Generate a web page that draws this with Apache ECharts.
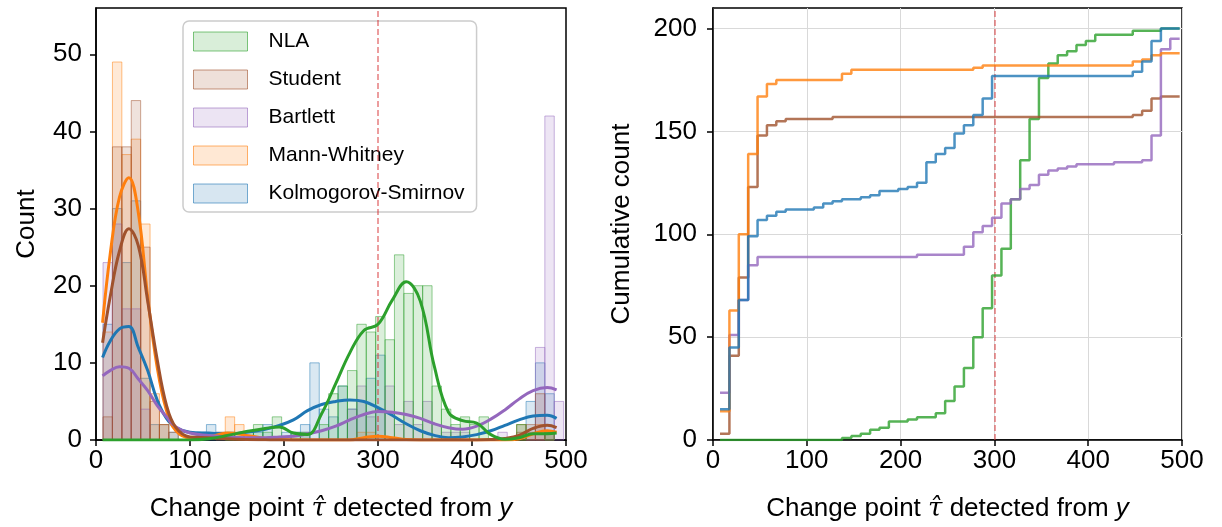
<!DOCTYPE html>
<html>
<head>
<meta charset="utf-8">
<script src="https://cdn.jsdelivr.net/npm/echarts@6/dist/echarts.min.js"></script>
<style>
  html, body { margin: 0; padding: 0; background: #fff; }
  #chart { width: 1222px; height: 527px; }
</style>
</head>
<body>
<div id="chart"></div>
<script>
// histogram bins (width 10)
const binEdges = [7.5, 17.5, 27.5, 37.5, 47.5, 57.5, 67.5, 77.5, 87.5, 97.5,
  107.5, 117.5, 127.5, 137.5, 147.5, 157.5, 167.5, 177.5, 187.5, 197.5,
  207.5, 217.5, 227.5, 237.5, 247.5, 257.5, 267.5, 277.5, 287.5, 297.5,
  307.5, 317.5, 327.5, 337.5, 347.5, 357.5, 367.5, 377.5, 387.5, 397.5,
  407.5, 417.5, 427.5, 437.5, 447.5, 457.5, 467.5, 477.5, 487.5, 497.5]

const methods = ['NLA', 'Student', 'Bartlett', 'Mann-Whitney', 'Kolmogorov-Smirnov']

// counts per bin
const countsNLA = [0, 0, 0, 0, 0, 0, 0, 0, 0, 0,
  0, 0, 0, 1, 1, 1, 2, 1, 3, 0,
  1, 1, 0, 2, 6, 7, 9, 15, 14, 16,
  13, 24, 19, 20, 20, 7, 4, 2, 3, 2,
  3, 0, 0, 0, 2, 0, 0, 1, 0]
const countsStudent = [3, 38, 38, 44, 25, 5, 2, 1, 0, 0,
  0, 0, 1, 0, 0, 0, 0, 0, 0, 0,
  0, 0, 0, 0, 0, 0, 0, 0, 0, 0,
  0, 0, 0, 0, 0, 0, 0, 0, 0, 0,
  0, 0, 0, 0, 1, 2, 6, 1, 0]
const countsBartlett = [23, 28, 17, 17, 4, 0, 0, 0, 0, 0,
  0, 0, 0, 0, 0, 0, 0, 0, 0, 0,
  0, 1, 0, 0, 0, 0, 4, 7, 3, 4,
  7, 2, 5, 2, 5, 2, 1, 1, 1, 0,
  0, 0, 1, 0, 0, 1, 12, 42, 5]
const countsMW = [14, 49, 37, 39, 28, 6, 2, 0, 0, 0,
  0, 0, 0, 3, 2, 0, 0, 0, 0, 0,
  0, 0, 0, 0, 0, 0, 0, 1, 1, 0,
  0, 0, 0, 0, 0, 0, 0, 0, 0, 0,
  0, 0, 0, 0, 2, 1, 2, 1, 0]
const countsKS = [15, 30, 23, 31, 8, 2, 2, 1, 0, 0,
  1, 2, 1, 1, 0, 1, 1, 2, 0, 1,
  1, 2, 10, 4, 3, 7, 4, 5, 8, 11,
  0, 0, 0, 0, 0, 0, 0, 0, 0, 0,
  0, 0, 0, 0, 2, 5, 10, 6, 0]

// KDE curves (in counts)
const kdeX = [7, 15, 25, 35, 45, 55, 65, 75, 85, 100,
  120, 140, 160, 180, 195, 210, 225, 240, 255, 270,
  285, 300, 315, 330, 345, 360, 375, 390, 405, 420,
  435, 450, 465, 480, 490]
const kdeNLA = [0, 0, 0, 0, 0, 0, 0, 0, 0, 0,
  0.15, 0.6, 1.1, 1.5, 1.7, 0.9, 0.7, 3.4, 7.3, 11.3,
  14.2, 15.0, 18.1, 20.5, 18.0, 9.5, 3.6, 2.5, 2.2, 0.7,
  0.1, 0.3, 0.8, 0.8, 0.9]
const kdeStudent = [12.6, 18.5, 24.5, 27.4, 25.2, 18.0, 10.5, 4.5, 1.6, 0.4,
  0.3, 0.15, 0.05, 0.02, 0, 0, 0, 0, 0, 0,
  0, 0, 0, 0, 0, 0, 0, 0, 0, 0.05,
  0.2, 0.6, 1.5, 1.9, 1.6]
const kdeBartlett = [8.3, 9.0, 9.5, 9.3, 7.9, 6.4, 4.5, 3.0, 1.7, 0.9,
  0.6, 0.4, 0.3, 0.3, 0.4, 0.5, 0.8, 1.2, 1.8, 2.6,
  3.3, 3.7, 3.6, 3.3, 2.8, 2.1, 1.6, 1.4, 1.8, 2.7,
  3.9, 5.3, 6.4, 6.8, 6.5]
const kdeMW = [15.2, 24.0, 31.5, 34.0, 29.5, 18.5, 9.5, 3.8, 1.2, 0.3,
  0.4, 0.9, 0.6, 0.2, 0.05, 0, 0, 0, 0, 0,
  0.3, 0.5, 0.3, 0.05, 0, 0, 0, 0, 0, 0,
  0, 0.15, 0.8, 1.2, 1.0]
const kdeKS = [10.7, 12.8, 14.4, 14.7, 12.0, 9.0, 5.2, 2.8, 1.6, 1.0,
  0.9, 0.8, 1.0, 1.4, 1.9, 2.6, 3.8, 4.6, 5.0, 5.2,
  5.0, 4.2, 3.2, 2.1, 1.2, 0.6, 0.3, 0.4, 0.7, 1.2,
  1.9, 2.6, 3.1, 3.2, 2.8]

const trueChange = 300

const colors = {
  'NLA': [44, 160, 44],
  'Student': [160, 82, 45],
  'Bartlett': [148, 103, 189],
  'Mann-Whitney': [255, 127, 14],
  'Kolmogorov-Smirnov': [31, 119, 180]
}
const countsBy = {
  'NLA': countsNLA, 'Student': countsStudent, 'Bartlett': countsBartlett,
  'Mann-Whitney': countsMW, 'Kolmogorov-Smirnov': countsKS
}
const kdeBy = {
  'NLA': kdeNLA, 'Student': kdeStudent, 'Bartlett': kdeBartlett,
  'Mann-Whitney': kdeMW, 'Kolmogorov-Smirnov': kdeKS
}

const rgba = (c, a) => `rgba(${c[0]},${c[1]},${c[2]},${a})`
const FONT = 'Liberation Sans, Arial, sans-serif'

const histSeries = (name) => {
  const col = colors[name]
  const data = []
  countsBy[name].forEach((c, i) => {
    if (c > 0) data.push([binEdges[i], binEdges[i + 1], c])
  })
  return {
    name,
    type: 'custom',
    xAxisIndex: 0,
    yAxisIndex: 0,
    silent: true,
    encode: { x: [0, 1], y: 2 },
    renderItem: (params, api) => {
      const p0 = api.coord([api.value(0), api.value(2)])
      const p1 = api.coord([api.value(1), 0])
      return {
        type: 'rect',
        shape: { x: p0[0], y: p0[1], width: p1[0] - p0[0], height: p1[1] - p0[1] },
        style: { fill: rgba(col, 0.17), stroke: rgba(col, 0.5), lineWidth: 1 }
      }
    },
    data
  }
}

const kdeSeries = (name) => ({
  name: name + ' kde',
  type: 'line',
  xAxisIndex: 0,
  yAxisIndex: 0,
  smooth: 0.4,
  showSymbol: false,
  silent: true,
  z: 5,
  lineStyle: { color: rgba(colors[name], 1), width: 3 },
  itemStyle: { color: rgba(colors[name], 1) },
  data: kdeX.map((x, i) => [x, kdeBy[name][i]])
})

const cumSeries = (name) => {
  let s = 0
  const counts = countsBy[name]
  const data = counts.map((c, i) => { s += c; return [binEdges[i], s] })
  data.push([binEdges[counts.length], s])
  return {
    name: name + ' cum',
    type: 'line',
    xAxisIndex: 1,
    yAxisIndex: 1,
    step: 'end',
    showSymbol: false,
    silent: true,
    z: 5,
    lineStyle: { color: rgba(colors[name], 0.8), width: 2.5 },
    itemStyle: { color: rgba(colors[name], 0.8) },
    data
  }
}

const dashLine = {
  silent: true,
  symbol: 'none',
  label: { show: false },
  lineStyle: { type: [6, 3], color: 'rgba(214,39,40,0.6)', width: 1.5 },
  data: [{ xAxis: trueChange }]
}

const xName = '{a|Change point }{t|τ̂}{a| detected from }{i|y}'
const nameStyle = {
  color: '#000',
  fontSize: 26,
  fontFamily: FONT,
  rich: {
    a: { fontSize: 26, fontFamily: FONT, color: '#000' },
    t: { fontSize: 26, fontFamily: 'DejaVu Serif', fontStyle: 'italic', color: '#000' },
    i: { fontSize: 26, fontFamily: FONT, fontStyle: 'italic', color: '#000' }
  }
}

const xAxisBase = (gridIndex) => ({
  type: 'value',
  gridIndex,
  min: 0,
  max: 500,
  interval: 100,
  name: xName,
  nameLocation: 'middle',
  nameGap: 56,
  nameTextStyle: nameStyle,
  axisLine: { show: true, lineStyle: { color: '#000', width: 1.5 } },
  axisTick: { show: true, length: 6, lineStyle: { color: '#000', width: 1.5 } },
  axisLabel: { color: '#000', fontSize: 26, fontFamily: FONT, margin: 8 },
  splitLine: { show: gridIndex === 1, lineStyle: { color: '#d9d9d9', width: 1 } }
})

const chart = echarts.init(document.getElementById('chart'), null, { renderer: 'canvas' })

const series = []
methods.slice().reverse().forEach(m => series.push(histSeries(m)))
methods.slice().reverse().forEach(m => series.push(kdeSeries(m)))
methods.forEach(m => series.push(cumSeries(m)))
series[series.length - 1 - 5].markLine = dashLine
series[series.length - 1].markLine = dashLine

chart.setOption({
  animation: false,
  backgroundColor: '#fff',
  textStyle: { fontFamily: FONT },
  grid: [
    { left: 96, top: 8, width: 470, height: 433, show: true, borderColor: '#000', borderWidth: 1.5, backgroundColor: 'transparent' },
    { left: 713, top: 8, width: 469, height: 433, show: true, borderColor: '#000', borderWidth: 1.5, backgroundColor: 'transparent' }
  ],
  legend: {
    orient: 'vertical',
    left: 183,
    top: 21,
    data: methods.map(m => ({
      name: m,
      itemStyle: { color: rgba(colors[m], 0.18), borderColor: rgba(colors[m], 0.6), borderWidth: 1 }
    })),
    icon: 'rect',
    itemWidth: 54,
    itemHeight: 19,
    itemGap: 17,
    padding: [10, 12, 8, 10],
    backgroundColor: '#fff',
    borderColor: '#cccccc',
    borderWidth: 1.5,
    borderRadius: 6,
    textStyle: { fontSize: 21, fontFamily: FONT, color: '#000', padding: [0, 0, 0, 16] }
  },
  xAxis: [xAxisBase(0), xAxisBase(1)],
  yAxis: [
    {
      type: 'value',
      gridIndex: 0,
      min: 0,
      max: 56,
      interval: 10,
      name: 'Count',
      nameLocation: 'middle',
      nameGap: 56,
      nameTextStyle: { color: '#000', fontSize: 26, fontFamily: FONT },
      axisLine: { show: true, lineStyle: { color: '#000', width: 1.5 } },
      axisTick: { show: true, length: 6, lineStyle: { color: '#000', width: 1.5 }, customValues: [0, 10, 20, 30, 40, 50] },
      axisLabel: { color: '#000', fontSize: 26, fontFamily: FONT, margin: 14, customValues: [0, 10, 20, 30, 40, 50] },
      splitLine: { show: false }
    },
    {
      type: 'value',
      gridIndex: 1,
      min: 0,
      max: 210,
      interval: 50,
      name: 'Cumulative count',
      nameLocation: 'middle',
      nameGap: 78,
      nameTextStyle: { color: '#000', fontSize: 26, fontFamily: FONT },
      axisLine: { show: true, lineStyle: { color: '#000', width: 1.5 } },
      axisTick: { show: true, length: 6, lineStyle: { color: '#000', width: 1.5 }, customValues: [0, 50, 100, 150, 200] },
      axisLabel: { color: '#000', fontSize: 26, fontFamily: FONT, margin: 16, customValues: [0, 50, 100, 150, 200] },
      splitLine: { show: true, lineStyle: { color: '#d9d9d9', width: 1 } }
    }
  ],
  series
})
</script>
</body>
</html>
